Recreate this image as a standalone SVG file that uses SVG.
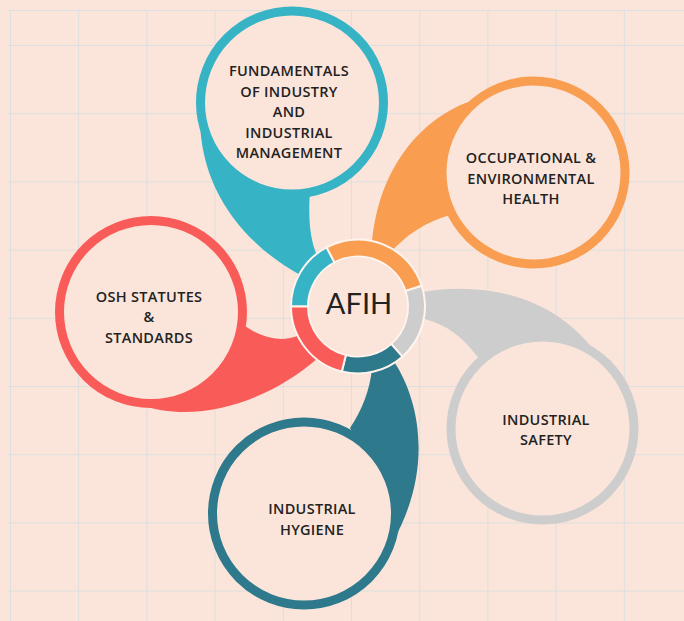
<svg xmlns="http://www.w3.org/2000/svg" width="684" height="621" viewBox="0 0 684 621">
<defs>
<style>
.bg{fill:#FBE5DA}
.grid line{stroke:#DCDFDF;stroke-width:1}
.node{fill:#FBE5DA;stroke-width:9}
.lbl{font-family:"Open Sans","Noto Sans",sans-serif;font-size:14.5px;font-weight:600;fill:#222;text-anchor:middle;letter-spacing:0.3px}
.seg{stroke:#FFF4EE;stroke-width:2}
.teal{fill:#36B3C5}.tealS{stroke:#36B3C5}
.orange{fill:#F99D51}.orangeS{stroke:#F99D51}
.red{fill:#F95C58}.redS{stroke:#F95C58}
.dark{fill:#2E798C}.darkS{stroke:#2E798C}
.gray{fill:#CDCDCD}.grayS{stroke:#CDCDCD}
</style>
</defs>
<rect class="bg" x="0" y="0" width="684" height="621"/>
<g class="grid">
<line x1="10.5" y1="10" x2="10.5" y2="621"/>
<line x1="78.7" y1="10" x2="78.7" y2="621"/>
<line x1="146.9" y1="10" x2="146.9" y2="621"/>
<line x1="215.1" y1="10" x2="215.1" y2="621"/>
<line x1="283.3" y1="10" x2="283.3" y2="621"/>
<line x1="351.5" y1="10" x2="351.5" y2="621"/>
<line x1="419.7" y1="10" x2="419.7" y2="621"/>
<line x1="487.9" y1="10" x2="487.9" y2="621"/>
<line x1="556.1" y1="10" x2="556.1" y2="621"/>
<line x1="624.3" y1="10" x2="624.3" y2="621"/>
<line x1="8" y1="10.5" x2="684" y2="10.5"/>
<line x1="8" y1="45.5" x2="684" y2="45.5"/>
<line x1="8" y1="113.7" x2="684" y2="113.7"/>
<line x1="8" y1="181.9" x2="684" y2="181.9"/>
<line x1="8" y1="250.1" x2="684" y2="250.1"/>
<line x1="8" y1="318.3" x2="684" y2="318.3"/>
<line x1="8" y1="386.5" x2="684" y2="386.5"/>
<line x1="8" y1="454.7" x2="684" y2="454.7"/>
<line x1="8" y1="522.9" x2="684" y2="522.9"/>
<line x1="8" y1="591.1" x2="684" y2="591.1"/>
</g>
<g id="connectors">
<path class="teal" d="M200,112 C198,190 245,245 302,276 L318,258 C310,240 308,220 310,190 Z"/>
<path class="orange" d="M480,98 C420,115 378,170 372,244 L390,253 C405,236 425,222 450,215 Z"/>
<path class="red" d="M140,405 C200,425 270,400 318,358 L300,335 C280,343 262,338 245,326 Z"/>
<path class="dark" d="M393,360 C420,400 434,470 392,543 L380,480 L350,428 C362,410 370,390 372,368 Z"/>
<path class="gray" d="M422,292 C490,280 560,300 598,356 L480,360 C465,340 450,325 421,318 Z"/>
</g>
<g id="node-fundamentals">
<circle class="node tealS" cx="292" cy="102.5" r="91.5"/>
<text class="lbl" x="289" y="76">FUNDAMENTALS</text>
<text class="lbl" x="289" y="96.5">OF INDUSTRY</text>
<text class="lbl" x="289" y="117">AND</text>
<text class="lbl" x="289" y="137.5">INDUSTRIAL</text>
<text class="lbl" x="289" y="158">MANAGEMENT</text>
</g>
<g id="node-occupational">
<circle class="node orangeS" cx="533.5" cy="172.5" r="91.5"/>
<text class="lbl" x="531" y="163">OCCUPATIONAL &amp;</text>
<text class="lbl" x="531" y="183.5">ENVIRONMENTAL</text>
<text class="lbl" x="531" y="204">HEALTH</text>
</g>
<g id="node-osh">
<circle class="node redS" cx="151" cy="312" r="91.5"/>
<text class="lbl" x="149" y="302">OSH STATUTES</text>
<text class="lbl" x="149" y="322">&amp;</text>
<text class="lbl" x="149" y="342.5">STANDARDS</text>
</g>
<g id="node-hygiene">
<circle class="node darkS" cx="304" cy="513.5" r="91.5"/>
<text class="lbl" x="312" y="514">INDUSTRIAL</text>
<text class="lbl" x="312" y="534.5">HYGIENE</text>
</g>
<g id="node-safety">
<circle class="node grayS" cx="542.5" cy="428.5" r="91.5"/>
<text class="lbl" x="546" y="424.5">INDUSTRIAL</text>
<text class="lbl" x="546" y="445">SAFETY</text>
</g>
<g id="node-afih">
<path class="seg teal" d="M291,306.5 A67,67 0 0 1 326.54,247.34 L334.53,262.35 A50,50 0 0 0 308,306.5 Z"/>
<path class="seg orange" d="M326.54,247.34 A67,67 0 0 1 421.72,285.8 L405.55,291.05 A50,50 0 0 0 334.53,262.35 Z"/>
<path class="seg gray" d="M421.72,285.8 A67,67 0 0 1 402.39,356.68 L391.13,343.95 A50,50 0 0 0 405.55,291.05 Z"/>
<path class="seg dark" d="M402.39,356.68 A67,67 0 0 1 341.79,371.51 L345.9,355.01 A50,50 0 0 0 391.13,343.95 Z"/>
<path class="seg red" d="M341.79,371.51 A67,67 0 0 1 291,306.5 L308,306.5 A50,50 0 0 0 345.9,355.01 Z"/>
<circle class="bg" cx="358" cy="306.5" r="49"/>
<text x="359" y="313.5" font-family="Lato,'Noto Sans',sans-serif" font-size="29" fill="#222" text-anchor="middle">AFIH</text>
</g>
</svg>
